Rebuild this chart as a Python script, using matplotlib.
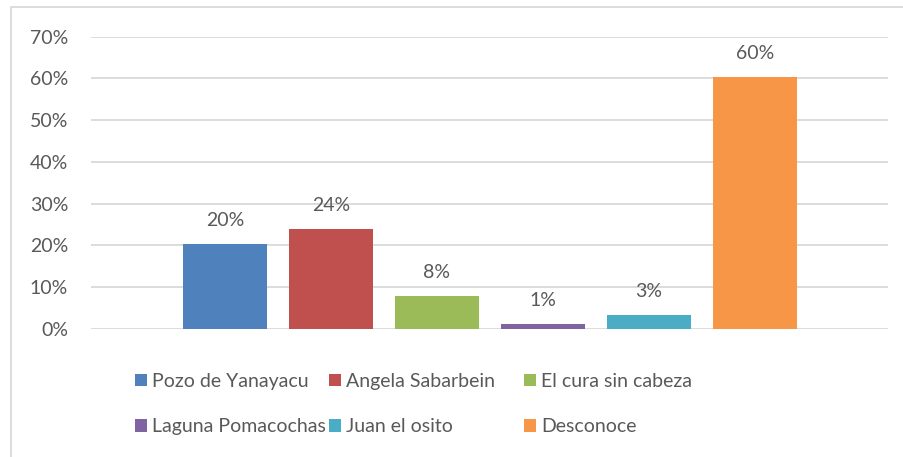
import matplotlib
matplotlib.use("Agg")
import matplotlib.pyplot as plt
from matplotlib.patches import Rectangle, Patch
from matplotlib.ticker import FuncFormatter

categories = ["Pozo de Yanayacu", "Angela Sabarbein", "El cura sin cabeza",
              "Laguna Pomacochas", "Juan el osito", "Desconoce"]
values = [20.4, 24.0, 7.9, 1.2, 3.4, 60.3]
colors = ["#4F81BD", "#C0504D", "#9BBB59", "#8064A2", "#4BACC6", "#F79646"]
yticks = [0, 10, 20, 30, 40, 50, 60, 70]

W, H = 904, 457
plt.rcParams['font.family'] = ['Lato', 'DejaVu Sans']
txt = "#595959"
fs = 14

fig = plt.figure(figsize=(W / 100, H / 100), dpi=100)
ax = fig.add_axes([91 / W, (H - 329) / H, (888 - 91) / W, (329 - 36.5) / H])

x = list(range(len(categories)))
bars = ax.bar(x, values, width=84 / 106, color=colors, zorder=3)

ax.set_xlim(-(225 - 91) / 106, (888 - 225) / 106)
ax.set_ylim(0, 70)
ax.set_yticks(yticks)
ax.yaxis.set_major_formatter(FuncFormatter(lambda v, p: f"{int(round(v))}%"))
ax.tick_params(axis='y', length=0, pad=16.5, labelsize=fs, labelcolor=txt)
ax.set_xticks([])
for s in ax.spines.values():
    s.set_visible(False)
ax.grid(axis='y', color="#d9d9d9", linewidth=1.3, zorder=0)
ax.set_axisbelow(True)

for b, v in zip(bars, values):
    ax.annotate(f"{int(round(v))}%", (b.get_x() + b.get_width() / 2, v),
                xytext=(0, 13), textcoords='offset points', ha='center',
                va='baseline', fontsize=fs, color=txt)

# legend: three columns, fixed positions
fpx = fs * 100 / 72
col_x = [135, 329, 524]
handles = [Patch(facecolor=c, edgecolor='none') for c in colors]
for ci, cx in enumerate(col_x):
    idx = [ci, ci + 3]
    leg = fig.legend([handles[i] for i in idx], [categories[i] for i in idx],
                     loc='center left', bbox_to_anchor=(cx / W, (H - 404) / H),
                     frameon=False, fontsize=fs, labelcolor=txt,
                     handlelength=12 / fpx, handleheight=12 / fpx,
                     handletextpad=5 / fpx, labelspacing=1.45,
                     borderpad=0, borderaxespad=0)

fig.patches.append(Rectangle((10.5 / W, -0.1), 1.2, (H - 7.5) / H + 0.1,
                             transform=fig.transFigure, fill=False,
                             edgecolor="#d9d9d9", linewidth=1.3))

fig.savefig("out.png", dpi=100)
